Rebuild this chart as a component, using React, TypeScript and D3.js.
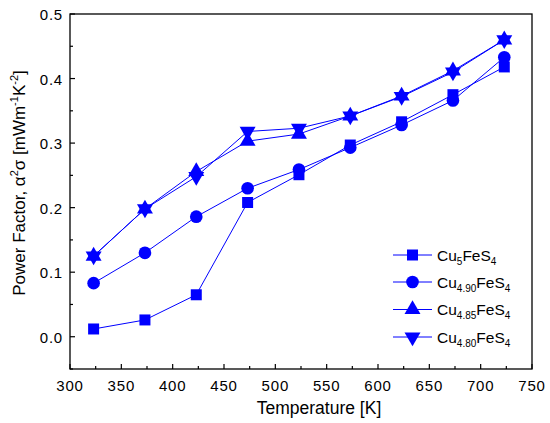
import * as d3 from "d3";

const temps = [323, 373, 423, 473, 523, 573, 623, 673, 723];
const cu500 = [0.012, 0.026, 0.065, 0.208, 0.251, 0.297, 0.333, 0.375, 0.418];
const cu490 = [0.083, 0.13, 0.186, 0.23, 0.259, 0.293, 0.328, 0.366, 0.433];
const cu485 = [0.125, 0.198, 0.256, 0.303, 0.314, 0.342, 0.373, 0.412, 0.46];
const cu480 = [0.125, 0.198, 0.248, 0.318, 0.323, 0.342, 0.372, 0.41, 0.46];

const xTicks = [300, 350, 400, 450, 500, 550, 600, 650, 700, 750];
const yTicks = [0.0, 0.1, 0.2, 0.3, 0.4, 0.5];

const series = [
  { sub: "5", values: cu500, shape: "square" },
  { sub: "4.90", values: cu490, shape: "circle" },
  { sub: "4.85", values: cu485, shape: "up" },
  { sub: "4.80", values: cu480, shape: "down" },
];

const W = 550;
const H = 423;
const m = { left: 70, right: 18, top: 14, bottom: 54 };
const blue = "#0000ff";
const font = "'Liberation Sans', Arial, sans-serif";

function markerPath(shape: string) {
  if (shape === "square") return d3.symbol(d3.symbolSquare, 121)()!;
  if (shape === "circle") return d3.symbol(d3.symbolCircle, 125)()!;
  return d3.symbol(d3.symbolTriangle, 110)()!;
}

export default function App() {
  const x = d3.scaleLinear().domain([300, 750]).range([m.left, W - m.right]);
  const y = d3.scaleLinear().domain([-0.05, 0.5]).range([H - m.bottom, m.top]);
  const x0 = m.left;
  const x1 = W - m.right;
  const y0 = H - m.bottom;
  const y1 = m.top;

  const xMinor = d3.range(325, 750, 50);
  const yMinor = d3.range(-0.05, 0.5, 0.1).map((v) => +v.toFixed(2));

  const line = d3
    .line<number>()
    .x((_, i) => x(temps[i]))
    .y((d) => y(d));

  const legendX = 393;
  const legendY = [255, 282, 309.5, 337];

  return (
    <svg
      width={W}
      height={H}
      style={{ position: "absolute", left: 0, top: 0, background: "#fff" }}
      fontFamily={font}
    >
      {/* ticks */}
      {xTicks.map((t) => (
        <g key={"xt" + t}>
          <line x1={x(t)} x2={x(t)} y1={y0} y2={y0 - 5} stroke="#000" strokeWidth={1.2} />
          <text x={x(t)} y={391} fontSize={15} letterSpacing={0.8} textAnchor="middle">
            {t}
          </text>
        </g>
      ))}
      {xMinor.map((t) => (
        <line key={"xm" + t} x1={x(t)} x2={x(t)} y1={y0} y2={y0 - 3} stroke="#000" strokeWidth={1.2} />
      ))}
      {yTicks.map((t) => (
        <g key={"yt" + t}>
          <line x1={x0} x2={x0 + 5} y1={y(t)} y2={y(t)} stroke="#000" strokeWidth={1.2} />
          <text x={63} y={y(t) + 6} fontSize={15} letterSpacing={0.8} textAnchor="end">
            {t.toFixed(1)}
          </text>
        </g>
      ))}
      {yMinor.map((t) => (
        <line key={"ym" + t} x1={x0} x2={x0 + 3} y1={y(t)} y2={y(t)} stroke="#000" strokeWidth={1.2} />
      ))}

      {/* series */}
      {series.map((s) => (
        <g key={s.sub}>
          <path d={line(s.values)!} fill="none" stroke={blue} strokeWidth={1} />
          {s.values.map((v, i) => (
            <path
              key={i}
              d={markerPath(s.shape)}
              transform={`translate(${x(temps[i])},${y(v)})${s.shape === "down" ? " rotate(180)" : ""}`}
              fill={blue}
            />
          ))}
        </g>
      ))}

      {/* frame */}
      <rect x={x0} y={y1} width={x1 - x0} height={y0 - y1} fill="none" stroke="#000" strokeWidth={1.3} />

      {/* legend */}
      {series.map((s, i) => (
        <g key={"lg" + s.sub}>
          <line x1={legendX} x2={legendX + 39} y1={legendY[i]} y2={legendY[i]} stroke={blue} strokeWidth={1} />
          <path
            d={markerPath(s.shape)}
            transform={`translate(${legendX + 19.5},${legendY[i]})${s.shape === "down" ? " rotate(180)" : ""}`}
            fill={blue}
          />
          <text x={437} y={legendY[i] + 5.5} fontSize={15.5}>
            Cu
            <tspan fontSize={10} dy={4}>
              {s.sub}
            </tspan>
            <tspan dy={-4}>FeS</tspan>
            <tspan fontSize={10} dy={4}>
              4
            </tspan>
          </text>
        </g>
      ))}

      {/* axis titles */}
      <text x={319} y={414} fontSize={17.5} textAnchor="middle">
        Temperature [K]
      </text>
      <text
        transform={`translate(25,183) rotate(-90)`}
        fontSize={17}
        textAnchor="middle"
      >
        Power Factor, α
        <tspan fontSize={11} dy={-7}>2</tspan>
        <tspan dy={7}>σ [mWm</tspan>
        <tspan fontSize={11} dy={-7}>-1</tspan>
        <tspan dy={7}>K</tspan>
        <tspan fontSize={11} dy={-7}>-2</tspan>
        <tspan dy={7}>]</tspan>
      </text>
    </svg>
  );
}
